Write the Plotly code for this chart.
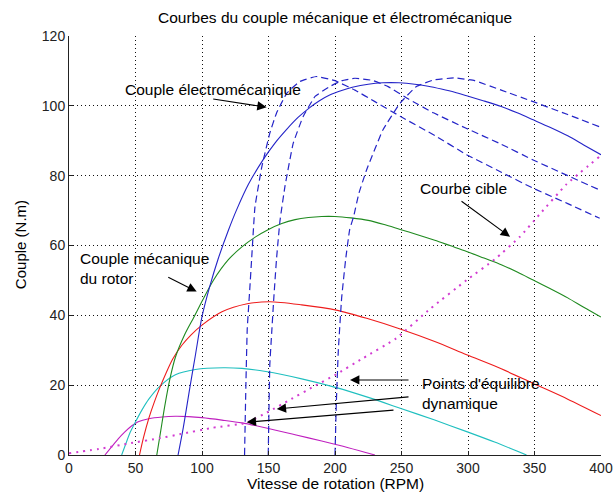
import plotly.graph_objects as go

# ---------------- data ----------------
# Mechanical torque curves of the rotor (solid)
mag_x = [27, 32, 37, 42, 47, 52, 60, 70, 80, 90, 100, 115, 130, 150, 170, 190, 210, 230]
mag_y = [0, 2.3, 4.6, 6.6, 8.3, 9.5, 10.4, 10.9, 11.1, 11.0, 10.7, 10.0, 9.2, 7.6, 5.8, 4.0, 2.1, 0]

cya_x = [39.6, 43, 46, 50, 55, 60, 68, 80, 95, 116, 130, 148, 175, 201, 225, 249, 275, 299, 320, 344]
cya_y = [0, 3.5, 6.5, 9.5, 13, 16, 19.6, 23, 24.5, 25, 24.8, 23.9, 21.8, 19.3, 16.5, 13.4, 10, 6.7, 3.7, 0]

red_x = [53, 56, 60, 64, 68, 73, 78, 85, 92, 100, 115, 134, 151, 175, 201, 225, 249, 275, 299, 325, 349, 375, 400]
red_y = [0, 5, 10.5, 15, 19, 23.5, 27.5, 31.5, 34.5, 37.2, 41, 43.3, 43.9, 43, 41.5, 39, 36.1, 32.5, 28.7, 24.7, 20.5, 16, 11.3]

grn_x = [66, 69, 72, 76, 80, 87, 93.5, 100, 108.5, 120, 130, 140, 150, 160, 170, 180, 190, 200, 212, 225, 237, 249, 262, 275, 287, 299, 312, 325, 337, 349, 362, 375, 387, 400]
grn_y = [0, 7, 14, 22, 28, 34.5, 39.2, 44, 50, 56, 59.6, 62.4, 64.6, 66.3, 67.4, 68.0, 68.3, 68.3, 67.9, 67.2, 66.0, 64.6, 63.1, 61.5, 59.9, 58.3, 56.4, 54.5, 52.4, 50.1, 47.6, 45.0, 42.3, 39.5]

blu_x = [82, 86, 91, 95, 100, 106, 112, 120, 126, 135, 146, 155, 164, 172, 181, 188, 196, 205, 213, 225, 236, 248, 260, 270, 280, 290, 299, 312, 325, 337, 349, 362, 375, 387, 400]
blu_y = [0, 8, 19.6, 28.5, 39.6, 48.5, 56, 64.5, 70.2, 77.6, 84.6, 89.4, 93.4, 96.6, 99.5, 101.4, 103.1, 104.4, 105.3, 106.2, 106.6, 106.6, 106.2, 105.6, 104.8, 103.9, 102.9, 101.4, 99.8, 98.0, 96.0, 93.8, 91.4, 88.8, 86]

# Electromechanical torque curves (dashed)
em1_x = [132, 133, 134, 136, 137.3, 139.8, 145, 151, 156, 163.7, 173.7, 186, 200, 215, 230, 249, 275, 299, 325, 349, 375, 399]
em1_y = [0, 20, 36, 48, 56, 71, 82.6, 92.2, 97.9, 103.6, 107, 108.4, 107.2, 104.5, 101.2, 97, 91.5, 86, 81, 76.4, 72, 67.8]

em2_x = [149.8, 151, 152.4, 154, 156, 158.6, 162.4, 168.6, 176, 185, 196, 205, 215, 228, 240, 255, 274, 299, 325, 349, 375, 399]
em2_y = [0, 26, 35, 45, 56, 67, 77, 89.3, 96.9, 102.7, 105.5, 107.2, 107.9, 107.3, 105.5, 102, 98, 93.5, 89, 84.5, 80, 75.9]

em3_x = [200, 201, 202.5, 205, 208, 211, 214, 218, 223.8, 236, 249, 261, 274, 290, 305, 325, 349, 375, 399]
em3_y = [0, 15, 30, 45, 56, 64.5, 68.3, 75, 81.7, 93.1, 100.8, 105.5, 107.4, 108, 107.2, 104.5, 101.2, 97.5, 94]

# Target curve (dotted)
cib_x = [0, 25, 45, 68, 84, 108, 133, 150, 166, 184, 200, 221, 246, 272, 299, 320, 339, 354, 374, 399]
cib_y = [0.5, 1.9, 3.3, 4.8, 6.0, 7.8, 9.2, 12.4, 15.8, 19.6, 22.9, 27.7, 33.4, 42, 50.1, 56, 62.5, 69, 77.5, 85.5]

x_ticks = [0, 50, 100, 150, 200, 250, 300, 350, 400]
y_ticks = [0, 20, 40, 60, 80, 100, 120]

FONT = "Liberation Sans, Arial, sans-serif"
BLUE = "#2424c8"
TXT = 15.5

fig = go.Figure()

def solid(x, y, color):
    fig.add_trace(go.Scatter(x=x, y=y, mode="lines",
                             line=dict(color=color, width=1.1, shape="spline", smoothing=0.8),
                             showlegend=False, hoverinfo="skip"))

def dashed(x, y):
    fig.add_trace(go.Scatter(x=x, y=y, mode="lines",
                             line=dict(color=BLUE, width=1.2, dash="7px,4px", shape="spline", smoothing=0.3),
                             showlegend=False, hoverinfo="skip"))

solid(mag_x, mag_y, "#bf1fbf")
solid(cya_x, cya_y, "#1fbfbf")
solid(red_x, red_y, "#ee1c1c")
solid(grn_x, grn_y, "#1f8a1f")
solid(blu_x, blu_y, BLUE)
dashed(em1_x, em1_y)
dashed(em2_x, em2_y)
dashed(em3_x, em3_y)
fig.add_trace(go.Scatter(x=cib_x, y=cib_y, mode="lines",
                         line=dict(color="#d23cd2", width=2, dash="2px,5px", shape="spline", smoothing=0.4),
                         showlegend=False, hoverinfo="skip"))

annotations = []

def arrow(hx, hy, tx, ty):
    annotations.append(dict(x=hx, y=hy, ax=tx, ay=ty, xref="x", yref="y", axref="x", ayref="y",
                            text="", showarrow=True, arrowhead=2, arrowsize=1.7, arrowwidth=1.1,
                            arrowcolor="black"))

def label(x, y, text, xanchor="center"):
    annotations.append(dict(x=x, y=y, xref="x", yref="y", text=text, showarrow=False,
                            xanchor=xanchor, yanchor="middle", align="left",
                            font=dict(family=FONT, size=TXT, color="black")))

# "Couple électromécanique"
label(108.6, 104.7, "Couple électromécanique")
arrow(148.6, 99.6, 107.3, 102.0)
# "Couple mécanique du rotor"
label(7.0, 53.5, "Couple mécanique<br>du rotor", xanchor="left")
arrow(96.0, 46.8, 73.5, 51.1)
# "Courbe cible"
label(296.5, 76.4, "Courbe cible")
arrow(331.6, 62.5, 294.0, 73.0)
# "Points d'équilibre dynamique"
label(263.9, 17.5, "Points d'équilibre<br>dynamique", xanchor="left")
arrow(211.3, 21.5, 256.4, 21.5)
arrow(156.2, 13.2, 256.4, 16.7)
arrow(133.6, 9.4, 245.1, 12.9)

# title and axis titles
annotations.append(dict(x=0.5, y=1.045, xref="paper", yref="paper", showarrow=False,
                        text="Courbes du couple mécanique et électromécanique",
                        xanchor="center", yanchor="middle", font=dict(family=FONT, size=TXT, color="black")))
annotations.append(dict(x=0.5, y=-0.069, xref="paper", yref="paper", showarrow=False,
                        text="Vitesse de rotation (RPM)",
                        xanchor="center", yanchor="middle", font=dict(family=FONT, size=TXT, color="black")))
annotations.append(dict(x=-0.092, y=0.501, xref="paper", yref="paper", showarrow=False,
                        text="Couple (N.m)", textangle=-90,
                        xanchor="center", yanchor="middle", font=dict(family=FONT, size=15, color="black")))

axis_common = dict(showgrid=True, gridcolor="#111111", griddash="1px,3px", gridwidth=1,
                   showline=True, linecolor="#222222", linewidth=1, mirror=False,
                   ticks="inside", ticklen=4, tickcolor="#222222", zeroline=False,
                   automargin=False,
                   tickfont=dict(family=FONT, size=14, color="#222222"))

fig.update_layout(
    width=613, height=500,
    margin=dict(l=69, r=12, t=36, b=45, autoexpand=False),
    paper_bgcolor="white", plot_bgcolor="white",
    annotations=annotations,
    xaxis=dict(range=[0, 400], tickvals=x_ticks, ticktext=[str(v) for v in x_ticks], **axis_common),
    yaxis=dict(range=[0, 120], tickvals=y_ticks, ticktext=[str(v) for v in y_ticks], **axis_common),
)

fig.write_html("out.html", config={"displayModeBar": False},
               post_script="document.body.style.margin='0px';document.body.style.overflow='hidden';")
